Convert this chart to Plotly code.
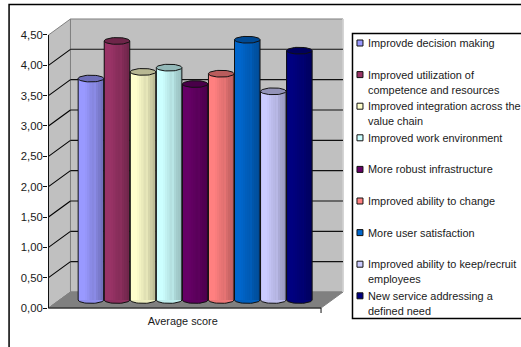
import numpy as np
import plotly.graph_objects as go

# Survey results: one average score per statement
categories = ["Average score"]
series_names = [
    ["Improvde decision making"],
    ["Improved utilization of", "competence and resources"],
    ["Improved integration across the", "value chain"],
    ["Improved work environment"],
    ["More robust infrastructure"],
    ["Improved ability to change"],
    ["More user satisfaction"],
    ["Improved ability to keep/recruit", "employees"],
    ["New service addressing a", "defined need"],
]
scores = [3.65, 4.27, 3.76, 3.83, 3.56, 3.73, 4.29, 3.44, 4.11]
colors = ["#9999FF", "#993366", "#FFFFCC", "#CCFFFF", "#660066",
          "#FF8080", "#0066CC", "#CCCCFF", "#000080"]
y_ticks = [0, 0.5, 1, 1.5, 2, 2.5, 3, 3.5, 4, 4.5]

# Page geometry in pixels
W, H = 521, 347
PLOT_L, PLOT_R, PLOT_T, PLOT_B = 47.5, 345, 17, 314
ZERO_PX, UNIT_PX = 308, 60.67      # y pixel of 0 and pixels per score unit
BAR0_PX, BAR_PX = 90.5, 26.1       # centre of first cylinder and spacing

def data_x(px):
    return (px - BAR0_PX) / BAR_PX

def data_y(py):
    return (ZERO_PX - py) / UNIT_PX

def paper_x(px):
    return (px - PLOT_L) / (PLOT_R - PLOT_L)

def paper_y(py):
    return (PLOT_B - py) / (PLOT_B - PLOT_T)

# Depth of the 3-D box, in data units
DEPTH_X, DEPTH_Y = 22 / BAR_PX, 16 / UNIT_PX
LEFT, RIGHT = data_x(48), data_x(321)
LIFT = DEPTH_Y / 2                 # cylinders stand half way into the floor
TOP = max(y_ticks)

def shade(hex_color, factor):
    r, g, b = (int(hex_color[i:i + 2], 16) for i in (1, 3, 5))
    return f"rgb({r * factor:.0f},{g * factor:.0f},{b * factor:.0f})"

shapes = []

def poly(xs, ys, fill, line="#808080", width=1):
    path = "M" + " L".join(f"{x:.4f},{y:.4f}" for x, y in zip(xs, ys)) + " Z"
    shapes.append(dict(type="path", path=path, xref="x", yref="y", fillcolor=fill,
                       line=dict(color=line, width=width), layer="below"))

def seg(x0, y0, x1, y1, color="#111111", width=1):
    shapes.append(dict(type="line", x0=x0, y0=y0, x1=x1, y1=y1, xref="x", yref="y",
                       line=dict(color=color, width=width), layer="below"))

# Walls and floor of the box
bx0, bx1 = LEFT + DEPTH_X, RIGHT + DEPTH_X
poly([bx0, bx1, bx1, bx0], [DEPTH_Y, DEPTH_Y, TOP + DEPTH_Y, TOP + DEPTH_Y], "#C0C0C0")
poly([LEFT, bx0, bx0, LEFT], [0, DEPTH_Y, TOP + DEPTH_Y, TOP], "#C0C0C0")
poly([LEFT, bx0, bx1, RIGHT], [0, DEPTH_Y, DEPTH_Y, 0], "#808080")
seg(bx1, DEPTH_Y, bx1, TOP + DEPTH_Y, "#DDDDDD", 1.5)

# Gridlines run along the side wall, then across the back wall
for t in y_ticks[1:-1]:
    seg(LEFT, t, bx0, t + DEPTH_Y, "#000000", 1.1)
    seg(bx0, t + DEPTH_Y, bx1, t + DEPTH_Y, "#111111", 1.1)

# Axis lines and the two end ticks of the category axis
seg(LEFT, 0, LEFT, TOP)
seg(LEFT, 0, RIGHT, 0)
seg(RIGHT, 0, RIGHT, data_y(313))

fig = go.Figure()

# Horizontal light falloff across a cylinder body
offsets = np.linspace(-0.49, 0.49, 14, endpoint=False) + 0.98 / 28
falloff = [1.0, 1.0, 1.0, 1.0, 0.98, 0.95, 0.92, 0.9, 0.88, 0.9, 0.84, 0.8, 0.78, 0.74]
HALF_W = 0.49
ELL_H = 3.4 / UNIT_PX
theta = np.linspace(0, 2 * np.pi, 49)

for i, (names, value, color) in enumerate(zip(series_names, scores, colors)):
    label = " ".join(names)
    fig.add_trace(go.Bar(
        x=i + offsets, y=[value] * len(offsets), base=LIFT, width=0.98 / len(offsets),
        marker=dict(color=[shade(color, f) for f in falloff], line=dict(width=0)),
        name=label, showlegend=False, hoverinfo="skip"))
    top = value + LIFT
    # rounded foot of the cylinder
    foot = np.linspace(np.pi, 2 * np.pi, 25)
    fig.add_trace(go.Scatter(
        x=i + HALF_W * np.cos(foot), y=LIFT + ELL_H * np.sin(foot), mode="lines",
        fill="toself", fillcolor=shade(color, 0.93),
        line=dict(color="#111111", width=1), showlegend=False, hoverinfo="skip"))
    # side edges
    fig.add_trace(go.Scatter(
        x=[i - HALF_W, i - HALF_W, None, i + HALF_W, i + HALF_W],
        y=[LIFT, top, None, LIFT, top], mode="lines",
        line=dict(color="#111111", width=1), showlegend=False, hoverinfo="skip"))
    # end cap
    fig.add_trace(go.Scatter(
        x=i + HALF_W * np.cos(theta), y=top + ELL_H * np.sin(theta), mode="lines",
        fill="toself", fillcolor=shade(color, 0.72),
        line=dict(color="#111111", width=1), name=label,
        hovertemplate=f"{label}: {value:.2f}<extra></extra>", showlegend=False))

# Chart frame and legend box run off the right and bottom of the page
paper_line = dict(color="#000000", width=1.5)
shapes.append(dict(type="rect", xref="paper", yref="paper", x0=paper_x(8.5), x1=paper_x(W + 5),
                   y0=paper_y(H + 5), y1=paper_y(4.5), line=paper_line, layer="below"))
shapes.append(dict(type="rect", xref="paper", yref="paper", x0=paper_x(352.5), x1=paper_x(W + 5),
                   y0=paper_y(318.5), y1=paper_y(33.5), line=paper_line, layer="below"))

# Hand-set legend: evenly spaced rows, wrapped lines at a wide leading
annotations = []
FONT = dict(family="Liberation Sans, Arial, sans-serif", size=10.9, color="#1a1a1a")
TICK_FONT = dict(family="Liberation Sans, Arial, sans-serif", size=11.3, color="#1a1a1a")
for i, (names, color) in enumerate(zip(series_names, colors)):
    row = 43 + i * 31.6
    shapes.append(dict(type="rect", xref="paper", yref="paper",
                       x0=paper_x(357), x1=paper_x(363), y0=paper_y(row + 3), y1=paper_y(row - 3),
                       fillcolor=color, line=dict(color="#111111", width=1)))
    for j, text in enumerate(names):
        annotations.append(dict(text=text, xref="paper", yref="paper", x=paper_x(366.5),
                                y=paper_y(row + j * 15), xanchor="left", yanchor="middle",
                                showarrow=False, font=FONT, align="left"))

fig.update_layout(
    width=W, height=H, margin=dict(l=PLOT_L, r=W - PLOT_R, t=PLOT_T, b=H - PLOT_B, pad=0),
    paper_bgcolor="white", plot_bgcolor="white", separators=", ",
    barmode="overlay", showlegend=False, shapes=shapes, annotations=annotations, font=FONT,
    xaxis=dict(range=[data_x(PLOT_L), data_x(PLOT_R)], showgrid=False, zeroline=False,
               showline=False, tickmode="array", tickvals=[data_x(182.5)], ticktext=categories,
               ticks="", ticklabelstandoff=-1, tickfont=FONT),
    yaxis=dict(range=[data_y(PLOT_B), data_y(PLOT_T)], showgrid=False, zeroline=False,
               showline=False, tickmode="array", tickvals=y_ticks, tickformat=".2f",
               ticks="outside", ticklen=4, tickcolor="#111111", ticklabelstandoff=-2,
               tickfont=TICK_FONT),
)

fig.write_html("out.html", config=dict(displayModeBar=False))
